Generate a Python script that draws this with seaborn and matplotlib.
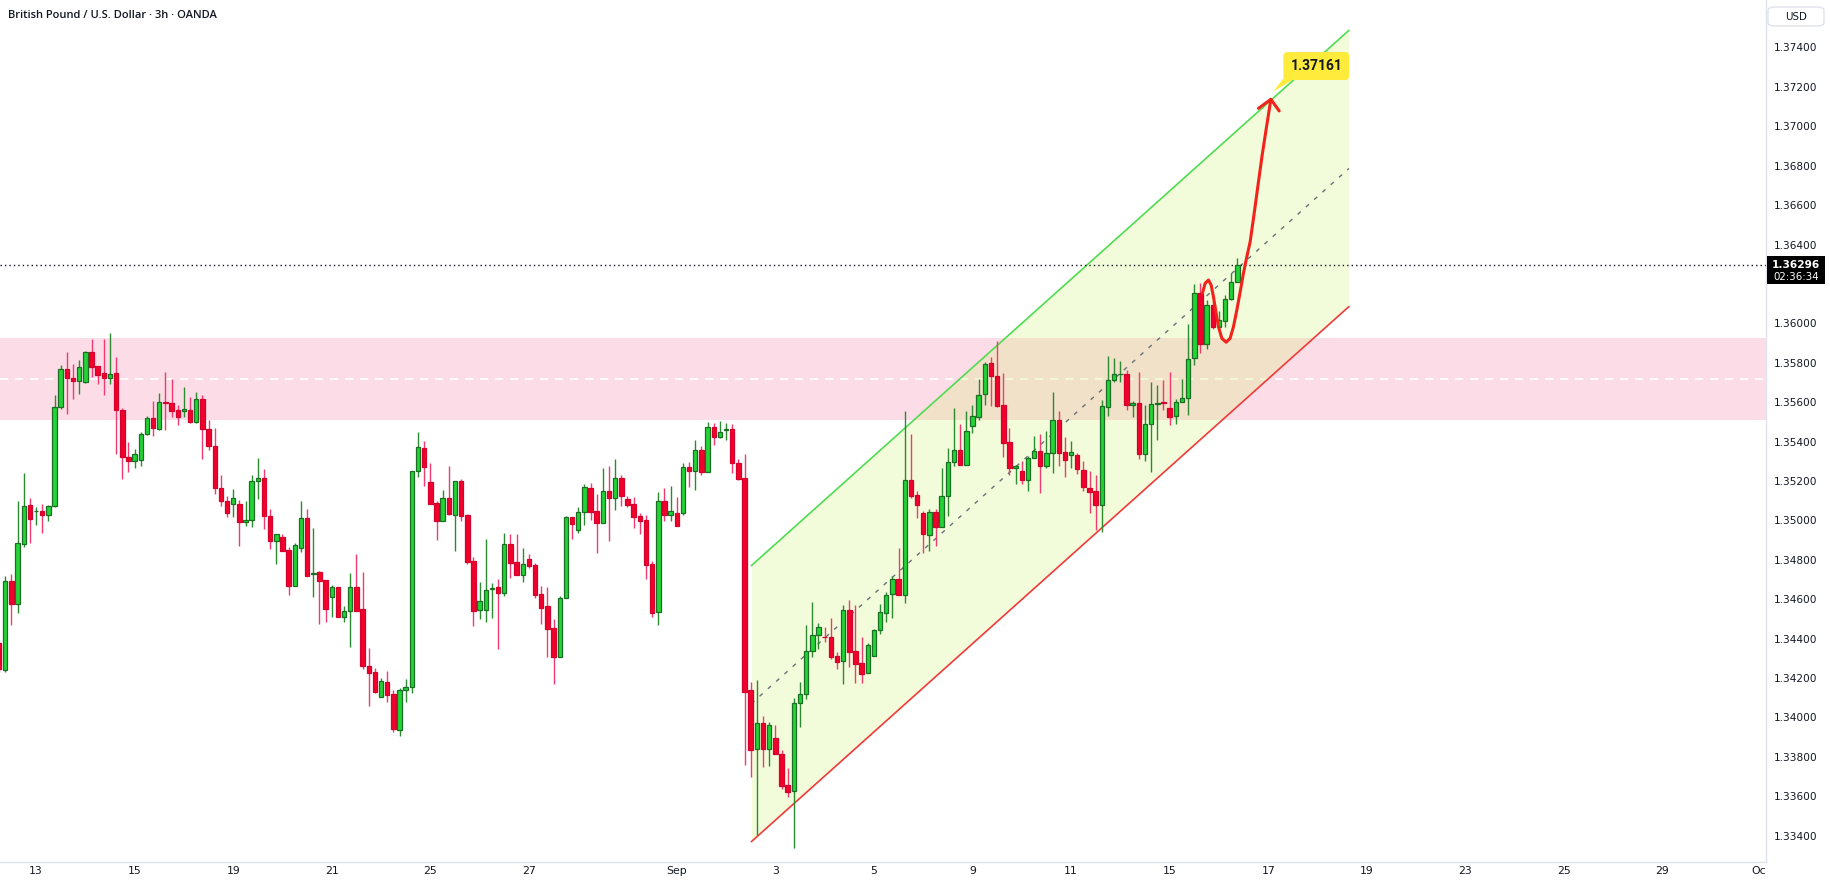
import matplotlib
matplotlib.use("Agg")
import matplotlib.pyplot as plt
from matplotlib.patches import Rectangle, FancyBboxPatch, Polygon
from matplotlib.transforms import blended_transform_factory
import numpy as np
import pandas as pd
import seaborn as sns

# --- DATA (GBPUSD 3h candles) ---
open_ = [1.34376, 1.34240, 1.34690, 1.34574, 1.34878, 1.35076, 1.35046, 1.35046, 1.35029, 1.35071,
         1.35574, 1.35767, 1.35721, 1.35706, 1.35701, 1.35853, 1.35782, 1.35746, 1.35721, 1.35746,
         1.35559, 1.35320, 1.35300, 1.35305, 1.35437, 1.35518, 1.35462, 1.35601, 1.35594, 1.35559,
         1.35553, 1.35559, 1.35498, 1.35614, 1.35462, 1.35379, 1.35163, 1.35097, 1.35081, 1.35081,
         1.34990, 1.35000, 1.35198, 1.35213, 1.35024, 1.34897, 1.34914, 1.34850, 1.34669, 1.34861,
         1.35010, 1.34728, 1.34736, 1.34696, 1.34613, 1.34660, 1.34511, 1.34538, 1.34660, 1.34548,
         1.34262, 1.34229, 1.34102, 1.34178, 1.34117, 1.33938, 1.34137, 1.34156, 1.35249, 1.35367,
         1.35193, 1.35088, 1.34998, 1.35112, 1.35029, 1.35198, 1.35026, 1.34792, 1.34547, 1.34547,
         1.34652, 1.34660, 1.34633, 1.34878, 1.34787, 1.34724, 1.34802, 1.34772, 1.34625, 1.34564,
         1.34452, 1.34308, 1.34604, 1.35015, 1.34953, 1.35041, 1.35163, 1.35046, 1.34988, 1.35147,
         1.35115, 1.35213, 1.35107, 1.35081, 1.35020, 1.35000, 1.34777, 1.34537, 1.35097, 1.35029,
         1.35036, 1.35036, 1.35269, 1.35252, 1.35355, 1.35244, 1.35472, 1.35425, 1.35460, 1.35462,
         1.35293, 1.35213, 1.34139, 1.33837, 1.33969, 1.33842, 1.33893, 1.33814, 1.33655, 1.33626,
         1.34074, 1.34117, 1.34335, 1.34416, 1.34409, 1.34407, 1.34311, 1.34284, 1.34543, 1.34335,
         1.34274, 1.34223, 1.34309, 1.34441, 1.34528, 1.34624, 1.34700, 1.34619, 1.35203, 1.35127,
         1.35035, 1.34924, 1.35040, 1.34964, 1.35122, 1.35294, 1.35355, 1.35279, 1.35480, 1.35526,
         1.35639, 1.35797, 1.35731, 1.35583, 1.35396, 1.35264, 1.35253, 1.35203, 1.35319, 1.35350,
         1.35274, 1.35340, 1.35507, 1.35345, 1.35330, 1.35330, 1.35255, 1.35162, 1.35147, 1.35076,
         1.35573, 1.35710, 1.35741, 1.35741, 1.35583, 1.35594, 1.35338, 1.35490, 1.35588, 1.35600,
         1.35568, 1.35528, 1.35599, 1.35619, 1.35823, 1.36153, 1.35897, 1.36092, 1.35980, 1.36010,
         1.36122, 1.36208]
high = [1.34384, 1.34718, 1.34728, 1.35098, 1.35240, 1.35113, 1.35068, 1.35083, 1.35076, 1.35636,
        1.35789, 1.35855, 1.35794, 1.35814, 1.35858, 1.35921, 1.35782, 1.35921, 1.35951, 1.35829,
        1.35569, 1.35398, 1.35361, 1.35447, 1.35528, 1.35606, 1.35647, 1.35753, 1.35718, 1.35584,
        1.35677, 1.35625, 1.35652, 1.35635, 1.35509, 1.35467, 1.35230, 1.35122, 1.35159, 1.35102,
        1.35098, 1.35230, 1.35317, 1.35261, 1.35058, 1.34929, 1.34929, 1.34863, 1.34885, 1.35098,
        1.35058, 1.34960, 1.34743, 1.34696, 1.34672, 1.34660, 1.34565, 1.34733, 1.34829, 1.34738,
        1.34352, 1.34249, 1.34200, 1.34235, 1.34139, 1.34149, 1.34195, 1.35249, 1.35449, 1.35403,
        1.35291, 1.35098, 1.35154, 1.35278, 1.35198, 1.35210, 1.35034, 1.34814, 1.34687, 1.34905,
        1.34682, 1.34702, 1.34936, 1.34931, 1.34931, 1.34860, 1.34829, 1.34782, 1.34667, 1.34662,
        1.34501, 1.34614, 1.35020, 1.35015, 1.35066, 1.35185, 1.35190, 1.35134, 1.35266, 1.35276,
        1.35311, 1.35230, 1.35124, 1.35117, 1.35037, 1.35027, 1.34795, 1.35144, 1.35164, 1.35174,
        1.35120, 1.35291, 1.35296, 1.35408, 1.35377, 1.35499, 1.35494, 1.35504, 1.35494, 1.35489,
        1.35313, 1.35336, 1.34179, 1.34189, 1.34007, 1.33978, 1.33961, 1.33834, 1.33741, 1.34096,
        1.34179, 1.34468, 1.34585, 1.34479, 1.34457, 1.34504, 1.34330, 1.34568, 1.34594, 1.34568,
        1.34406, 1.34375, 1.34451, 1.34575, 1.34636, 1.34719, 1.34859, 1.35555, 1.35438, 1.35149,
        1.35050, 1.35056, 1.35056, 1.35265, 1.35367, 1.35568, 1.35489, 1.35555, 1.35585, 1.35717,
        1.35805, 1.35827, 1.35908, 1.35746, 1.35467, 1.35280, 1.35303, 1.35328, 1.35428, 1.35436,
        1.35456, 1.35651, 1.35553, 1.35423, 1.35401, 1.35340, 1.35299, 1.35250, 1.35230, 1.35610,
        1.35834, 1.35822, 1.35808, 1.35763, 1.35605, 1.35753, 1.35583, 1.35702, 1.35687, 1.35712,
        1.35753, 1.35615, 1.35715, 1.35996, 1.36200, 1.36203, 1.36119, 1.36115, 1.36063, 1.36142,
        1.36254, 1.36332]
low = [1.34232, 1.34232, 1.34470, 1.34528, 1.34866, 1.34887, 1.34978, 1.34934, 1.34998, 1.35069,
       1.35567, 1.35542, 1.35618, 1.35643, 1.35699, 1.35729, 1.35694, 1.35638, 1.35694, 1.35339,
       1.35212, 1.35247, 1.35267, 1.35278, 1.35433, 1.35430, 1.35459, 1.35459, 1.35526, 1.35486,
       1.35526, 1.35496, 1.35496, 1.35313, 1.35357, 1.35136, 1.35075, 1.35019, 1.35019, 1.34872,
       1.34973, 1.34968, 1.35110, 1.34958, 1.34856, 1.34780, 1.34846, 1.34623, 1.34669, 1.34841,
       1.34719, 1.34613, 1.34476, 1.34486, 1.34511, 1.34511, 1.34486, 1.34359, 1.34542, 1.34244,
       1.34059, 1.34122, 1.34102, 1.34080, 1.33927, 1.33907, 1.34080, 1.34122, 1.35218, 1.35176,
       1.35085, 1.34902, 1.34998, 1.35027, 1.34846, 1.34998, 1.34780, 1.34465, 1.34501, 1.34486,
       1.34506, 1.34349, 1.34618, 1.34709, 1.34724, 1.34689, 1.34760, 1.34608, 1.34476, 1.34308,
       1.34171, 1.34308, 1.34604, 1.34907, 1.34938, 1.34978, 1.35004, 1.34836, 1.34988, 1.34897,
       1.35054, 1.35075, 1.35069, 1.34963, 1.34932, 1.34704, 1.34511, 1.34470, 1.34998, 1.34998,
       1.34973, 1.35029, 1.35171, 1.35156, 1.35232, 1.35244, 1.35384, 1.35420, 1.35410, 1.35242,
       1.35207, 1.33758, 1.33699, 1.33403, 1.33749, 1.33754, 1.33812, 1.33639, 1.33597, 1.33335,
       1.33952, 1.34091, 1.34304, 1.34348, 1.34384, 1.34298, 1.34247, 1.34171, 1.34257, 1.34176,
       1.34176, 1.34223, 1.34309, 1.34424, 1.34485, 1.34506, 1.34619, 1.34582, 1.35115, 1.35013,
       1.34832, 1.34842, 1.34871, 1.34964, 1.35023, 1.35277, 1.35279, 1.35279, 1.35445, 1.35509,
       1.35585, 1.35580, 1.35577, 1.35323, 1.35230, 1.35186, 1.35186, 1.35150, 1.35314, 1.35137,
       1.35267, 1.35242, 1.35277, 1.35221, 1.35267, 1.35233, 1.35150, 1.35039, 1.34951, 1.34942,
       1.35529, 1.35700, 1.35703, 1.35561, 1.35526, 1.35313, 1.35301, 1.35245, 1.35409, 1.35560,
       1.35484, 1.35490, 1.35599, 1.35534, 1.35789, 1.35851, 1.35872, 1.35973, 1.35980, 1.35982,
       1.36119, 1.36208]
close = [1.34244, 1.34690, 1.34574, 1.34883, 1.35071, 1.35005, 1.35048, 1.35029, 1.35071, 1.35574,
         1.35767, 1.35721, 1.35706, 1.35777, 1.35853, 1.35777, 1.35736, 1.35721, 1.35741, 1.35559,
         1.35320, 1.35300, 1.35335, 1.35437, 1.35518, 1.35467, 1.35599, 1.35597, 1.35553, 1.35523,
         1.35564, 1.35501, 1.35614, 1.35462, 1.35379, 1.35163, 1.35097, 1.35036, 1.35112, 1.34990,
         1.35000, 1.35198, 1.35213, 1.35024, 1.34897, 1.34929, 1.34846, 1.34669, 1.34873, 1.35010,
         1.34719, 1.34730, 1.34694, 1.34552, 1.34660, 1.34511, 1.34538, 1.34660, 1.34542, 1.34262,
         1.34227, 1.34130, 1.34183, 1.34115, 1.33943, 1.34137, 1.34152, 1.35249, 1.35372, 1.35273,
         1.35085, 1.34998, 1.35112, 1.35034, 1.35198, 1.35024, 1.34790, 1.34542, 1.34589, 1.34645,
         1.34655, 1.34633, 1.34878, 1.34785, 1.34724, 1.34777, 1.34770, 1.34623, 1.34557, 1.34450,
         1.34308, 1.34604, 1.35015, 1.34983, 1.35041, 1.35168, 1.35044, 1.34988, 1.35147, 1.35115,
         1.35213, 1.35125, 1.35080, 1.35019, 1.34998, 1.34775, 1.34531, 1.35097, 1.35029, 1.35046,
         1.34973, 1.35269, 1.35252, 1.35355, 1.35244, 1.35472, 1.35425, 1.35447, 1.35464, 1.35293,
         1.35212, 1.34130, 1.33834, 1.33969, 1.33842, 1.33959, 1.33812, 1.33653, 1.33622, 1.34071,
         1.34117, 1.34335, 1.34416, 1.34457, 1.34406, 1.34308, 1.34282, 1.34543, 1.34333, 1.34272,
         1.34221, 1.34365, 1.34441, 1.34533, 1.34619, 1.34700, 1.34619, 1.35203, 1.35125, 1.35079,
         1.34929, 1.35040, 1.34964, 1.35122, 1.35294, 1.35355, 1.35279, 1.35451, 1.35529, 1.35636,
         1.35793, 1.35731, 1.35580, 1.35394, 1.35264, 1.35274, 1.35206, 1.35319, 1.35350, 1.35274,
         1.35340, 1.35507, 1.35343, 1.35304, 1.35345, 1.35259, 1.35167, 1.35145, 1.35076, 1.35578,
         1.35710, 1.35741, 1.35744, 1.35583, 1.35594, 1.35338, 1.35487, 1.35588, 1.35597, 1.35597,
         1.35526, 1.35599, 1.35619, 1.35817, 1.36153, 1.35894, 1.36092, 1.35983, 1.36016, 1.36122,
         1.36208, 1.36296]

day_labels = ["13", "15", "19", "21", "25", "27", "Sep", "3", "5", "9", "11", "15",
              "17", "19", "23", "25", "29", "Oct"]
day_first_bar = [6, 22, 38, 54, 70, 86, 110, 126, 142, 158, 174, 190, 206, 222, 238, 254, 270, 286]

price_ticks = [1.334, 1.336, 1.338, 1.340, 1.342, 1.344, 1.346, 1.348, 1.350, 1.352, 1.354,
               1.356, 1.358, 1.360, 1.364, 1.366, 1.368, 1.370, 1.372, 1.374]

# supply / demand zone
zone_low = 1.35509
zone_high = 1.35925
zone_mid = 1.35717

# rising channel (bar index, price)
channel_bars = [122.1, 219.1]
channel_upper = [1.34770, 1.37487]
channel_lower = [1.33369, 1.36085]

last_price = 1.36296
countdown = "02:36:34"
target_price = 1.37161
target_label_bar = 213.8
target_label_price = 1.37306

# hand drawn projection arrow
path_bars = [195.32, 195.76, 196.30, 196.74, 197.11, 197.55, 197.92, 198.47, 199.17, 199.82,
             200.36, 200.91, 201.45, 201.98, 202.53, 203.07, 203.73, 204.37, 205.02, 205.72, 206.43]
path_prices = [1.36152, 1.36203, 1.36220, 1.36194, 1.36135, 1.36051, 1.35983, 1.35924, 1.35904,
               1.35924, 1.35983, 1.36068, 1.36160, 1.36254, 1.36338, 1.36414, 1.36560, 1.36707,
               1.36854, 1.36996, 1.37137]
head_bars = [204.42, 206.43, 207.78]
head_prices = [1.37091, 1.37137, 1.37078]

# --- STYLE ---
sns.set_style("white")
plt.rcParams['font.family'] = ['DejaVu Sans']

TEXT = "#131722"
GRID = "#e0e3eb"
UP_FACE, UP_EDGE, UP_WICK = "#22d436", "#1c6e25", "#2c8a31"
DN_FACE, DN_EDGE, DN_WICK = "#f2002c", "#d4002e", "#f03a70"

df = pd.DataFrame({"open": open_, "high": high, "low": low, "close": close})
df["bar"] = np.arange(len(df))
df["up"] = df["close"] >= df["open"]

W, H = 1831, 888
fig = plt.figure(figsize=(W / 100, H / 100), dpi=100)
ax = fig.add_axes([0, 26 / H, 1766 / W, 862 / H])
ax.set_xlim(0.146, 286.8)
ax.set_ylim(1.33266, 1.37641)

# zone
ax.axhspan(zone_low, zone_high, color="#fcdde7", zorder=1, lw=0)
ax.axhline(zone_mid, color="white", lw=1.2, ls=(0, (5, 4)), zorder=1.2)

# channel
ax.fill_between(channel_bars, channel_lower, channel_upper, color="#c8f05a", alpha=0.22, lw=0, zorder=1.5)
sns.lineplot(x=channel_bars, y=channel_upper, color="#4fdc4f", lw=1.2, ax=ax, zorder=2)
sns.lineplot(x=channel_bars, y=channel_lower, color="#f23a3a", lw=1.2, ax=ax, zorder=2)
mid = [(a + b) / 2 for a, b in zip(channel_upper, channel_lower)]
ax.plot(channel_bars, mid, color="#6b6f7a", lw=1.0, ls=(0, (3, 5)), zorder=2)

# last price line
ax.axhline(last_price, color=TEXT, lw=1.0, ls=(0, (1, 2.2)), zorder=2.5)

# candles
wick_c = np.where(df["up"], UP_WICK, DN_WICK)
face_c = np.where(df["up"], UP_FACE, DN_FACE)
edge_c = np.where(df["up"], UP_EDGE, DN_EDGE)
ax.vlines(df["bar"], df["low"], df["high"], colors=wick_c, lw=1.0, zorder=3)
body_lo = np.minimum(df["open"], df["close"])
body_h = np.maximum((df["close"] - df["open"]).abs(), 0.000025)
ax.bar(df["bar"], body_h, bottom=body_lo, width=0.72, color=face_c, edgecolor=edge_c,
       linewidth=0.9, zorder=4)

# projection arrow
ax.plot(path_bars, path_prices, color="#f2231a", lw=2.2, solid_capstyle="round",
        solid_joinstyle="round", zorder=5)
ax.plot(head_bars, head_prices, color="#f2231a", lw=2.2, solid_capstyle="round", zorder=5)

# target label
tail = Polygon([(208.5, 1.37244), (210.4, 1.37244), (206.8, 1.37176)], closed=True,
               fc="#ffeb3b", ec="none", zorder=6)
ax.add_patch(tail)
ax.text(target_label_bar, target_label_price, f"{target_price:.5f}", ha="center", va="center",
        fontsize=10, fontweight="bold", family=["Roboto", "DejaVu Sans"], color=TEXT, zorder=7,
        bbox=dict(boxstyle="round,pad=0.45,rounding_size=0.25", fc="#ffeb3b", ec="#ffeb3b"))

# axes look
for s in ["top", "left"]:
    ax.spines[s].set_visible(False)
for s in ["right", "bottom"]:
    ax.spines[s].set_color(GRID)
    ax.spines[s].set_linewidth(1.0)

ax.yaxis.tick_right()
ax.set_yticks(price_ticks)
ax.set_yticklabels([f"{p:.5f}" for p in price_ticks])
ax.tick_params(axis="y", length=0, pad=6, labelsize=7.6, labelcolor=TEXT)
ax.set_xticks(day_first_bar)
ax.set_xticklabels(day_labels)
ax.tick_params(axis="x", length=0, pad=3, labelsize=7.8, labelcolor=TEXT)
ax.set_xlabel("")
ax.set_ylabel("")
ax.grid(False)

clip = Rectangle((0, 0), 1766 / W, 1, transform=fig.transFigure)
for lbl in ax.get_xticklabels():
    lbl.set_clip_path(clip)

# last price tag on the scale
tr = blended_transform_factory(fig.transFigure, ax.transData)
ax.add_patch(Rectangle((1767 / W, last_price - 0.00095), 58 / W, 0.00141, transform=tr,
                       fc="black", ec="none", clip_on=False, zorder=8))
ax.text(1796 / W, last_price, f"{last_price:.5f}", transform=tr, ha="center", va="center",
        color="white", fontsize=7.6, fontweight="bold", clip_on=False, zorder=9)
ax.text(1796 / W, last_price - 0.00062, countdown, transform=tr, ha="center", va="center",
        color="white", fontsize=7.4, clip_on=False, zorder=9)

# currency box
fig.patches.append(FancyBboxPatch((1768 / W, 1 - 26 / H), 56 / W, 19 / H,
                                  boxstyle="round,pad=0,rounding_size=0.004",
                                  transform=fig.transFigure, fc="white", ec=GRID, lw=1))
fig.text(1796 / W, 1 - 16.5 / H, "USD", ha="center", va="center", fontsize=7.4, color=TEXT)

# title
fig.text(8 / W, 1 - 15 / H, "British Pound / U.S. Dollar \u00b7 3h \u00b7 OANDA", ha="left",
         va="center", fontsize=8, fontweight="semibold", family=["Open Sans", "DejaVu Sans"],
         color=TEXT)

fig.savefig("out.png", dpi=100, facecolor="white")
